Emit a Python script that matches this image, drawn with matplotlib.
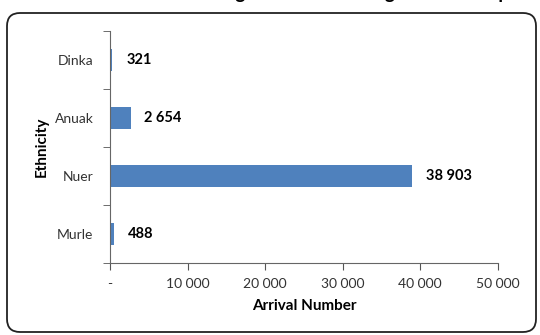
import matplotlib.pyplot as plt
from matplotlib.patches import FancyBboxPatch
from matplotlib.ticker import FuncFormatter

groups = ['Dinka', 'Anuak', 'Nuer', 'Murle']
arrivals = [321, 2654, 38903, 488]
x_ticks = [0, 10000, 20000, 30000, 40000, 50000]

plt.rcParams['font.family'] = ['Lato', 'DejaVu Sans']


def fmt(v, pos=None):
    if v == 0:
        return '-'
    return f'{int(v):,}'.replace(',', ' ')


fig = plt.figure(figsize=(5.4, 3.35), dpi=100)
ax = fig.add_axes([0.2037, 0.215, 0.7183, 0.6925])

# rounded chart border (inches)
border = FancyBboxPatch((0.07, 0.03), 5.29, 3.19, transform=fig.dpi_scale_trans,
                        boxstyle='round,pad=0,rounding_size=0.13',
                        facecolor='none', edgecolor='#222222', linewidth=1.3)
fig.patches.append(border)

# title, mostly cut off by the top edge as in the original
fig.text(0.66, 1.004, 'Refugee Arrivals among Ethnic Groups', ha='center',
         va='baseline', fontsize=13.5, fontweight='bold')

y = list(range(len(groups)))
ax.barh(y, arrivals, height=0.38, color='#4F81BD')
for yi, v in zip(y, arrivals):
    ax.annotate(fmt(v), (v, yi), xytext=(10, 0), textcoords='offset points',
                va='center', ha='left', fontsize=10.5, fontweight='bold')

ax.set_xlim(0, 50000)
ax.set_ylim(len(groups) - 0.5, -0.5)
ax.set_xticks(x_ticks)
ax.xaxis.set_major_formatter(FuncFormatter(fmt))
ax.set_yticks(y)
ax.set_yticklabels(groups)
ax.set_yticks([i + 0.5 for i in range(-1, len(groups))], minor=True)
ax.tick_params(axis='y', which='major', length=0, pad=12, labelsize=10,
               labelcolor='#333333')
ax.tick_params(axis='y', which='minor', length=5, color='#555555')
ax.tick_params(axis='x', length=5, color='#555555', labelsize=10,
               labelcolor='#333333', pad=6)

for s in ['top', 'right']:
    ax.spines[s].set_visible(False)
for s in ['left', 'bottom']:
    ax.spines[s].set_color('#666666')

ax.set_xlabel('Arrival Number', fontsize=11, fontweight='bold', labelpad=6)
ax.set_ylabel('Ethnicity', fontsize=11, fontweight='bold', labelpad=4)

fig.savefig('out.png', dpi=100)
